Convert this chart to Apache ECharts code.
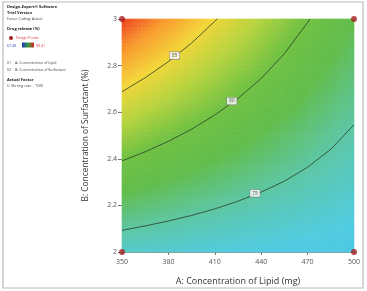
<!DOCTYPE html>
<html>
<head>
<meta charset="utf-8">
<script src="https://cdn.jsdelivr.net/npm/echarts@6/dist/echarts.min.js"></script>
<style>
html,body{margin:0;padding:0;background:#fff;}
#main{width:367px;height:291px;}
</style>
</head>
<body>
<div id="main"></div>
<script>
// grid nodes
var lipid = [350, 380, 410, 440, 470, 500];
var surfactant = [2, 2.2, 2.4, 2.6, 2.8, 3];
// drug release (%) at each node, one row per lipid value, columns follow surfactant
var release = [
	[73.4, 76.8, 80.2, 83.5, 86.9, 90.2],
	[73.1, 76.0, 78.9, 81.8, 84.8, 87.7],
	[72.7, 75.2, 77.7, 80.2, 82.6, 85.1],
	[72.4, 74.4, 76.5, 78.5, 80.6, 82.6],
	[72.1, 73.7, 75.3, 76.9, 78.5, 80.1],
	[71.8, 73.0, 74.1, 75.3, 76.5, 77.7]
];
// contour lines
var contour75 = [[350,2.093],[365,2.112],[380,2.133],[395,2.157],[410,2.185],[425,2.218],[440,2.257],[455,2.304],[470,2.364],[485,2.441],[500,2.546]];
var contour80 = [[350,2.391],[365,2.430],[380,2.475],[395,2.527],[410,2.588],[425,2.659],[440,2.745],[455,2.851],[470,2.985],[471.5,3]];
var contour85 = [[350,2.688],[365,2.748],[380,2.817],[395,2.897],[410,2.990],[411.5,3]];
var contourLabels = [[384,2.843,'85'],[421,2.648,'80'],[436,2.252,'75']];
var designPoints = [[350,2],[500,2],[350,3],[500,3]];
var releaseMin = 67.48, releaseMax = 90.41;
var colorStops = ['#2850d8','#40c0f0','#52cce0','#5ec6a0','#62bd4c','#72c244','#b8d440','#f4d63a','#f89a30','#ee3a20'];

function hexRgb(h){
	return [parseInt(h.substr(1,2),16),parseInt(h.substr(3,2),16),parseInt(h.substr(5,2),16)];
}
var stopRgb = colorStops.map(hexRgb);
function colorOf(v){
	var t = (v-releaseMin)/(releaseMax-releaseMin);
	t = Math.max(0,Math.min(1,t))*(stopRgb.length-1);
	var i = Math.min(Math.floor(t),stopRgb.length-2), f = t-i;
	var a = stopRgb[i], b = stopRgb[i+1];
	return 'rgb('+Math.round(a[0]+(b[0]-a[0])*f)+','+Math.round(a[1]+(b[1]-a[1])*f)+','+Math.round(a[2]+(b[2]-a[2])*f)+')';
}

var cells = [];
for (var i = 0; i < lipid.length-1; i++) {
	for (var j = 0; j < surfactant.length-1; j++) {
		cells.push([lipid[i], surfactant[j], lipid[i+1], surfactant[j+1], i, j]);
	}
}

// shade each cell between its four corner values
function renderCell(params, api){
	var i = api.value(4), j = api.value(5);
	var p0 = api.coord([api.value(0), api.value(1)]);
	var p1 = api.coord([api.value(2), api.value(3)]);
	var v00 = release[i][j], v10 = release[i+1][j], v01 = release[i][j+1], v11 = release[i+1][j+1];
	var n = 12, kids = [];
	var w = (p1[0]-p0[0])/n, h = (p1[1]-p0[1])/n;
	for (var x = 0; x < n; x++) {
		for (var y = 0; y < n; y++) {
			var u = (x+0.5)/n, s = (y+0.5)/n;
			var v = v00*(1-u)*(1-s) + v10*u*(1-s) + v01*(1-u)*s + v11*u*s;
			kids.push({
				type: 'rect',
				shape: {x: p0[0]+x*w-0.3, y: p0[1]+(y+1)*h-0.3, width: w+0.6, height: -h+0.6},
				style: {fill: colorOf(v)}
			});
		}
	}
	return {type: 'group', children: kids};
}

var lineStyle = {color: '#2a3f26', width: 0.8};
var small = '3.6px Open Sans', smallBold = 'bold 4px Open Sans';
var myChart = echarts.init(document.getElementById('main'));
myChart.setOption({
	animation: false,
	textStyle: {fontFamily: 'Open Sans'},
	grid: {left: 122, right: 13, top: 19, bottom: 39},
	xAxis: {
		type: 'value', min: 350, max: 500, interval: 30,
		name: 'A: Concentration of Lipid (mg)', nameLocation: 'middle', nameGap: 25,
		nameTextStyle: {fontSize: 9, color: '#333'},
		splitLine: {show: false},
		axisLine: {lineStyle: {color: '#777', width: 0.8}},
		axisTick: {length: 3, lineStyle: {color: '#777'}},
		axisLabel: {fontSize: 7, color: '#555', margin: 6}
	},
	yAxis: {
		type: 'value', min: 2, max: 3, interval: 0.2,
		name: 'B: Concentration of Surfactant (%)', nameLocation: 'middle', nameGap: 32,
		nameTextStyle: {fontSize: 8.4, color: '#333'},
		splitLine: {show: false},
		axisLine: {lineStyle: {color: '#777', width: 0.8}},
		axisTick: {length: 4, lineStyle: {color: '#777'}},
		axisLabel: {fontSize: 7, color: '#555', margin: 5}
	},
	graphic: [
		{type: 'rect', shape: {x: 3, y: 2, width: 360, height: 286}, style: {fill: 'none', stroke: '#bbb', lineWidth: 1.2}, z: -10},
		{type: 'text', left: 7, top: 5, style: {text: 'Design-Expert® Software', font: smallBold, fill: '#222'}},
		{type: 'text', left: 7, top: 11, style: {text: 'Trial Version', font: smallBold, fill: '#222'}},
		{type: 'text', left: 7, top: 17, style: {text: 'Factor Coding: Actual', font: small, fill: '#444'}},
		{type: 'text', left: 7, top: 27, style: {text: 'Drug release (%)', font: smallBold, fill: '#222'}},
		{type: 'circle', shape: {cx: 11, cy: 38, r: 2}, style: {fill: '#a52020'}},
		{type: 'text', left: 16, top: 36, style: {text: 'Design Points', font: small, fill: '#d03040'}},
		{type: 'text', left: 7, top: 43.5, style: {text: '67.48', font: small, fill: '#3050c0'}},
		{type: 'rect', shape: {x: 22, y: 42.5, width: 12, height: 5}, style: {fill: new echarts.graphic.LinearGradient(0,0,1,0,[{offset:0,color:'#2030c0'},{offset:0.5,color:'#30a040'},{offset:1,color:'#e02020'}])}},
		{type: 'text', left: 36, top: 43.5, style: {text: '90.41', font: small, fill: '#e03040'}},
		{type: 'text', left: 7, top: 61, style: {text: 'X1 = A: Concentration of Lipid', font: small, fill: '#444'}},
		{type: 'text', left: 7, top: 68, style: {text: 'X2 = B: Concentration of Surfactant', font: small, fill: '#444'}},
		{type: 'text', left: 7, top: 78, style: {text: 'Actual Factor', font: smallBold, fill: '#222'}},
		{type: 'text', left: 7, top: 84, style: {text: 'C: Stirring rate = 1500', font: small, fill: '#444'}}
	],
	series: [{
		name: 'surface',
		type: 'custom',
		renderItem: renderCell,
		encode: {x: [0, 2], y: [1, 3]},
		data: cells,
		silent: true,
		z: 1
	},{
		name: '75', type: 'line', data: contour75, symbol: 'none', lineStyle: lineStyle, z: 3
	},{
		name: '80', type: 'line', data: contour80, symbol: 'none', lineStyle: lineStyle, z: 3
	},{
		name: '85', type: 'line', data: contour85, symbol: 'none', lineStyle: lineStyle, z: 3
	},{
		name: 'labels', type: 'scatter', symbolSize: 0, z: 4,
		data: contourLabels,
		label: {
			show: true, position: 'inside', fontSize: 5, color: '#333',
			backgroundColor: '#fff', borderColor: '#777', borderWidth: 0.6, padding: [1, 2],
			formatter: function(p){ return p.value[2]; }
		}
	},{
		name: 'Design Points', type: 'scatter', symbolSize: 6, clip: false, z: 5,
		itemStyle: {color: '#a52020'},
		data: designPoints
	}]
});
</script>
</body>
</html>
